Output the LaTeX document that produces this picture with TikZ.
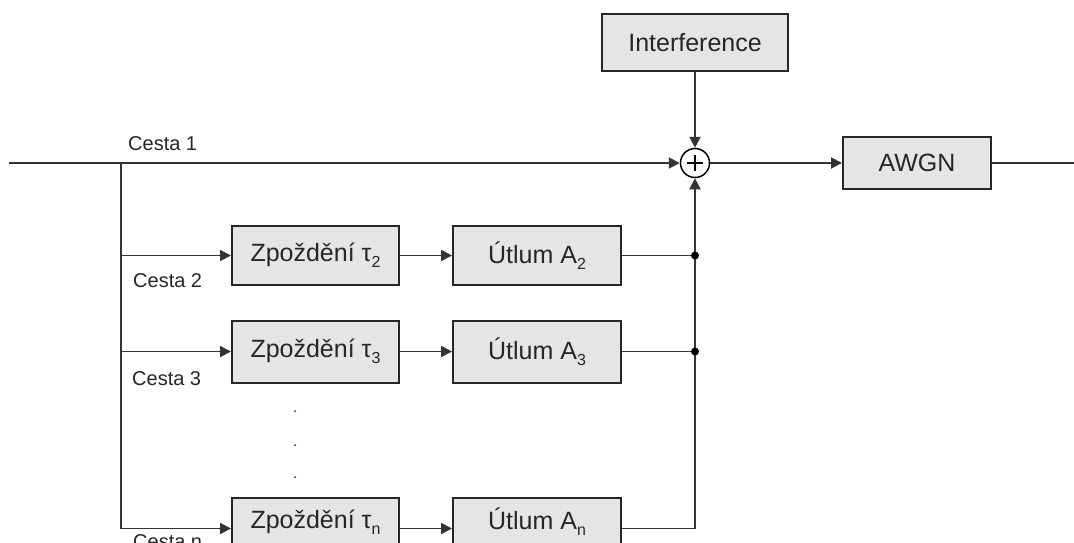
\documentclass[tikz,border=0pt]{standalone}
\usepackage{fontspec}
\setmainfont{Liberation Sans}
\usetikzlibrary{arrows.meta}
\tikzset{
  blk/.style={draw=black!85, line width=2pt, fill=black!10, minimum height=59pt, inner sep=0pt, text=black!85, font=\fontsize{25}{29}\selectfont},
  wire/.style={line width=1.9pt, draw=black!80},
  arr/.style={wire, -{Triangle[length=11pt,width=11pt]}},
  lbl/.style={anchor=base west, inner sep=0pt, text=black!85, font=\fontsize{20}{24}\selectfont},
  jdot/.style={circle, fill=black, inner sep=0pt, minimum size=8pt},
  vdot/.style={circle, fill=black!60, inner sep=0pt, minimum size=2.5pt},
}
\newcommand{\lowsub}[1]{\raisebox{-0.25em}{\fontsize{16}{18}\selectfont #1}}
\begin{document}
\begin{tikzpicture}[x=1pt,y=-1pt]
\useasboundingbox (0,0) rectangle (1074,542);
\clip (0,0) rectangle (1074,542);
% summing junction
\node[circle, draw=black, line width=1.5pt, minimum size=29pt, inner sep=0pt, fill=white] (sum) at (695,163) {};
\draw[line width=1.2pt] (687,163) -- (703,163) (695,155) -- (695,171);
% blocks
\node[blk, minimum width=186pt, minimum height=57pt] (intf) at (695,42.5) {Interference};
\node[blk, minimum width=148pt, minimum height=52pt] (awgn) at (917,163) {AWGN};
\node[blk, minimum width=167pt] (z2) at (315.5,255.5) {Zpoždění τ\lowsub{2}};
\node[blk, minimum width=168pt] (u2) at (537,255.5) {Útlum A\lowsub{2}};
\node[blk, minimum width=167pt, minimum height=62pt] (z3) at (315.5,351.5) {Zpoždění τ\lowsub{3}};
\node[blk, minimum width=168pt, minimum height=62pt] (u3) at (537,351.5) {Útlum A\lowsub{3}};
\node[blk, minimum width=167pt, minimum height=62pt] (zn) at (315.5,528.5) {};
\node[blk, minimum width=168pt, minimum height=62pt] (un) at (537,528.5) {};
\node[text=black!85, font=\fontsize{25}{29}\selectfont, inner sep=0pt] (zt) at (315.5,522) {Zpoždění τ\lowsub{n}};
\node[text=black!85, font=\fontsize{25}{29}\selectfont, inner sep=0pt] (ut) at (537,522) {Útlum A\lowsub{n}};
% coordinates
\coordinate (src) at (9,163);
\coordinate (split) at (121,163);
\coordinate (out) at (1085,163);
% main path
\draw[arr] (src) -- (sum.west);
\draw[arr] (intf.south) -- (sum.north);
\draw[arr] (sum.east) -- (awgn.west);
\draw[arr] (awgn.east) -- (out);
% branches
\draw[arr] (split) |- (zn.west);
\draw[arr] (split |- z2) -- (z2.west);
\draw[arr] (split |- z3) -- (z3.west);
\draw[arr] (z2.east) -- (u2.west);
\draw[arr] (z3.east) -- (u3.west);
\draw[arr] (zn.east) -- (un.west);
\draw[arr] (un.east) -| (sum.south);
\draw[wire] (u2.east) -- (u2.east -| sum) node[jdot] (j2) {};
\draw[wire] (u3.east) -- (u3.east -| sum) node[jdot] (j3) {};
% ellipsis dots
\node[vdot] (d1) at (295,411) {};
\node[vdot] (d2) at (295,445) {};
\node[vdot] (d3) at (295,477) {};
% labels
\node[lbl] (c1) at (128,150) {Cesta 1};
\node[lbl] (c2) at (133,287) {Cesta 2};
\node[lbl] (c3) at (132,385) {Cesta 3};
\node[lbl] (cn) at (133,548) {Cesta n};
\end{tikzpicture}
\end{document}
